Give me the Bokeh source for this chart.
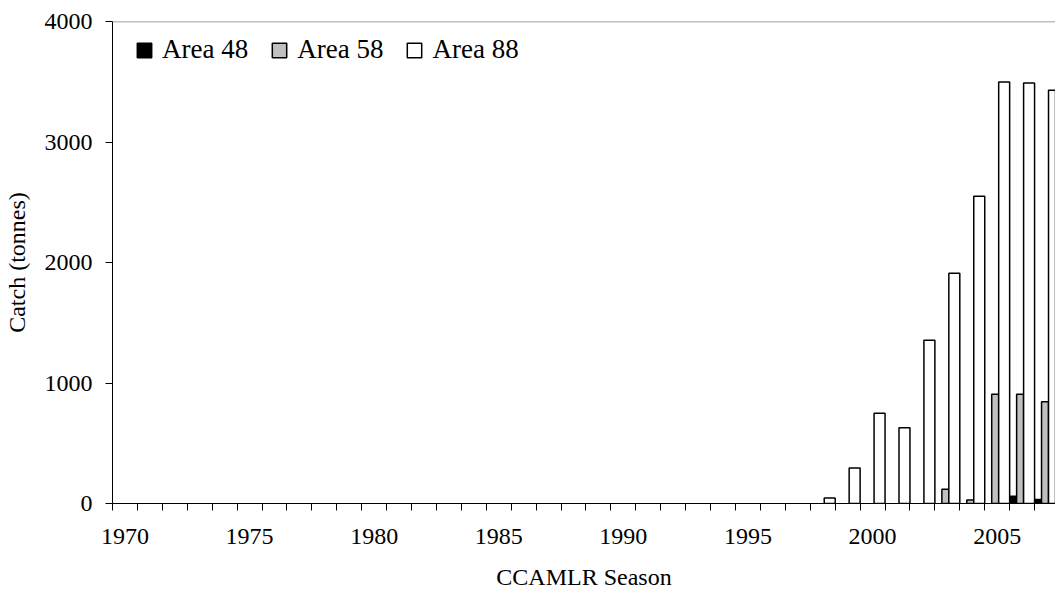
from bokeh.plotting import figure
from bokeh.models import ColumnDataSource, FixedTicker, Span, Range1d, Legend, LegendItem, CDSView, BooleanFilter
from bokeh.transform import dodge
from bokeh.embed import file_html
from bokeh.resources import INLINE

years = list(range(1970, 2008))
area48 = [0]*34 + [0, 0, 61, 33]
area58 = [0]*33 + [119, 30, 906, 906, 845]
area88 = [0]*28 + [45, 295, 748, 629, 1355, 1910, 2550, 3498, 3490, 3429]
series_names = ["Area 48", "Area 58", "Area 88"]
y_ticks = [0, 1000, 2000, 3000, 4000]
x_label_ticks = [1970, 1975, 1980, 1985, 1990, 1995, 2000, 2005]

FONT = "Liberation Serif"

src = ColumnDataSource(dict(year=years, a48=area48, a58=area58, a88=area88))

p = figure(width=1055, height=592, output_backend="svg", toolbar_location=None,
           x_range=Range1d(1969.5, 2007.34), y_range=Range1d(0, 4000),
           min_border_left=111, min_border_top=21, min_border_right=0, min_border_bottom=60)
p.outline_line_color = None
p.grid.visible = False
p.background_fill_color = "white"

LW = 1.5
r48 = p.vbar(x=dodge("year", -0.36), top="a48", width=0.28, source=src,
             view=CDSView(filter=BooleanFilter([v > 0 for v in area48])),
             fill_color="black", line_color="black", line_width=LW)
r58 = p.vbar(x=dodge("year", -0.08), top="a58", width=0.28, source=src,
             view=CDSView(filter=BooleanFilter([v > 0 for v in area58])),
             fill_color="#c0c0c0", line_color="black", line_width=LW)
r88 = p.vbar(x=dodge("year", 0.28), top="a88", width=0.44, source=src,
             view=CDSView(filter=BooleanFilter([v > 0 for v in area88])),
             fill_color="white", line_color="black", line_width=LW)

p.add_layout(Span(location=4000, dimension="width", line_color="#808080", line_width=1.5))

# axes
xa = p.xaxis[0]
xa.ticker = FixedTicker(ticks=x_label_ticks, minor_ticks=[y - 0.5 for y in years] + [2007.5])
xa.major_tick_out = 0
xa.major_tick_in = 0
xa.minor_tick_out = 7
xa.minor_tick_in = 0
xa.axis_label = "CCAMLR Season"
xa.major_label_standoff = 18
xa.axis_label_standoff = 17

ya = p.yaxis[0]
ya.ticker = FixedTicker(ticks=y_ticks)
ya.major_tick_out = 7
ya.major_tick_in = 0
ya.minor_tick_out = 0
ya.minor_tick_in = 0
ya.axis_label = "Catch (tonnes)"
ya.major_label_standoff = 13
ya.axis_label_standoff = 12

for ax in (xa, ya):
    ax.axis_line_color = "black"
    ax.major_tick_line_color = "black"
    ax.minor_tick_line_color = "black"
    ax.major_label_text_font = FONT
    ax.major_label_text_font_size = "24px"
    ax.major_label_text_color = "black"
    ax.axis_label_text_font = FONT
    ax.axis_label_text_font_size = "24px"
    ax.axis_label_text_font_style = "normal"
    ax.axis_label_text_color = "black"

legend = Legend(items=[LegendItem(label=series_names[0], renderers=[r48]),
                       LegendItem(label=series_names[1], renderers=[r58]),
                       LegendItem(label=series_names[2], renderers=[r88])],
                orientation="horizontal", location=(23, 438),
                label_text_font=FONT, label_text_font_size="27px", label_text_color="black",
                glyph_width=18, glyph_height=18, label_standoff=9, spacing=22,
                padding=0, margin=0, border_line_color=None, background_fill_alpha=0,
                label_height=18)
p.add_layout(legend)

open("out.html", "w").write(file_html(p, INLINE))
